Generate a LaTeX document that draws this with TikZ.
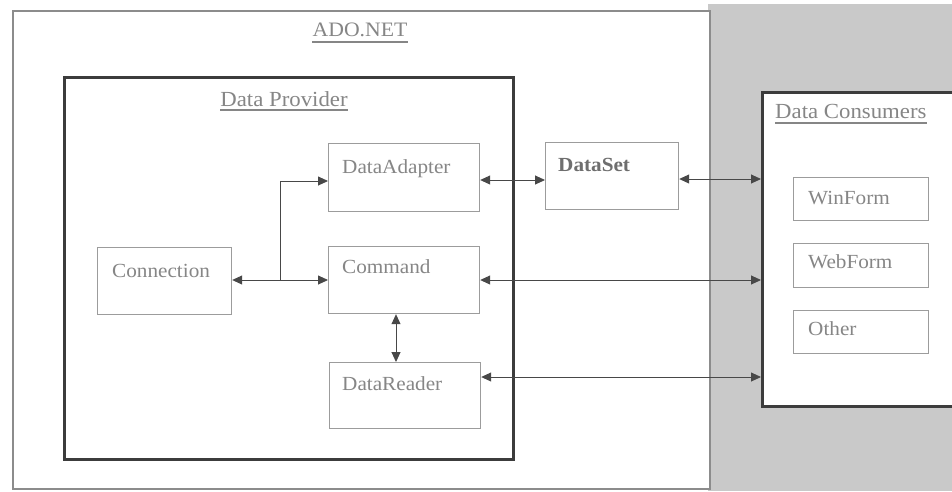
\documentclass[tikz,border=0pt]{standalone}
\usepackage{fontspec}
\setmainfont{Liberation Serif}[FakeStretch=1.06]
\usetikzlibrary{arrows.meta,calc}
\definecolor{txt}{HTML}{868686}
\definecolor{txtd}{HTML}{6E6E6E}
\definecolor{boxc}{HTML}{9C9C9C}
\definecolor{dark}{HTML}{3C3C3C}
\definecolor{band}{HTML}{C9C9C9}
\definecolor{arr}{HTML}{484848}
\definecolor{outer}{HTML}{8C8C8C}
\begin{document}
\begin{tikzpicture}[x=1pt,y=-1pt,
  box/.style={draw=boxc,line width=1.2pt,fill=white,inner sep=0pt,anchor=north west},
  frame/.style={draw=dark,line width=3pt,fill=white,inner sep=0pt,anchor=north west},
  lbl/.style={text=txt,font=\fontsize{20}{24}\selectfont,inner sep=0pt,anchor=base west},
  ttl/.style={text=txt,font=\fontsize{21.5}{26}\selectfont,inner sep=0pt,anchor=base},
  uline/.style={draw=txt,line width=1.3pt},
  tip/.style={Triangle[length=10pt,width=9pt]},
  link/.style={draw=arr,line width=0.9pt,{Triangle[length=10pt,width=9pt]}-{Triangle[length=10pt,width=9pt]}},
  onelink/.style={draw=arr,line width=0.9pt,-{Triangle[length=10pt,width=9pt]}}
]
\useasboundingbox (0,0) rectangle (952,491);
\clip (0,0) rectangle (952,491);
\fill[white] (0,0) rectangle (952,491);
% grey band
\fill[band] (708,4) rectangle (952,491);
% ADO.NET outer box
\node[draw=outer,line width=2pt,fill=white,inner sep=0pt,anchor=north west,
      minimum width=697pt,minimum height=478pt] (ado) at (12,10) {};
\node[ttl,font=\fontsize{20.5}{25}\selectfont] (tado) at (360,36) {ADO.NET};
\draw[uline] ($(tado.base west)+(0,6)$) -- ($(tado.base east)+(0,6)$);

% Data Provider frame
\node[frame,minimum width=449pt,minimum height=382pt] (prov) at (63,76) {};
\node[ttl] (tprov) at (284,106) {Data Provider};
\draw[uline] ($(tprov.base west)+(0,4)$) -- ($(tprov.base east)+(0,4)$);

% Data Consumers frame
\node[frame,minimum width=260pt,minimum height=314pt] (cons) at (761,91) {};
\node[ttl,anchor=base west] (tcons) at (775,118) {Data Consumers};
\draw[uline] ($(tcons.base west)+(0,5)$) -- ($(tcons.base east)+(0,5)$);

% inner boxes
\node[box,minimum width=151pt,minimum height=68pt] (da) at (328,143) {};
\node[lbl] (tda) at (342,173) {DataAdapter};
\node[box,minimum width=151pt,minimum height=67pt] (cmd) at (328,246) {};
\node[lbl] (tcmd) at (342,273) {Command};
\node[box,minimum width=151pt,minimum height=66pt] (dr) at (329,362) {};
\node[lbl] (tdr) at (342,390) {DataReader};
\node[box,minimum width=134pt,minimum height=67pt] (conn) at (97,247) {};
\node[lbl] (tconn) at (112,277) {Connection};
\node[box,minimum width=133pt,minimum height=67pt] (ds) at (545,142) {};
\node[lbl,text=txtd,font=\fontsize{20}{24}\selectfont\bfseries] (tds) at (558,171) {DataSet};
\node[box,minimum width=135pt,minimum height=43pt] (wf) at (793,177) {};
\node[lbl] (twf) at (808,204) {WinForm};
\node[box,minimum width=135pt,minimum height=44pt] (web) at (793,243) {};
\node[lbl] (tweb) at (808,268) {WebForm};
\node[box,minimum width=135pt,minimum height=43pt] (oth) at (793,310) {};
\node[lbl] (toth) at (808,335) {Other};

% connectors
\coordinate (daport) at ($(da.north east)+(0,37)$);
\draw[link] (daport) -- (daport -| ds.west);
\coordinate (dsport) at ($(ds.north east)+(0,37)$);
\draw[link] (dsport) -- (dsport -| cons.west);
\coordinate (cmdport) at ($(cmd.north east)+(0,34)$);
\draw[link] (cmdport) -- (cmdport -| cons.west);
\coordinate (drport) at ($(dr.north east)+(0,15)$);
\draw[link] (drport) -- (drport -| cons.west);
\coordinate (connport) at ($(conn.north east)+(0,33)$);
\draw[link] (connport) -- (connport -| cmd.west);
\coordinate (j) at ($(connport)!0.5!(connport -| cmd.west)$);
\coordinate (dain) at ($(da.north west)+(0,38)$);
\draw[onelink] (j) |- (dain);
\coordinate (vtop) at ($(cmd.south west)+(68,0)$);
\draw[link] (vtop) -- (vtop |- dr.north);
\end{tikzpicture}
\end{document}
